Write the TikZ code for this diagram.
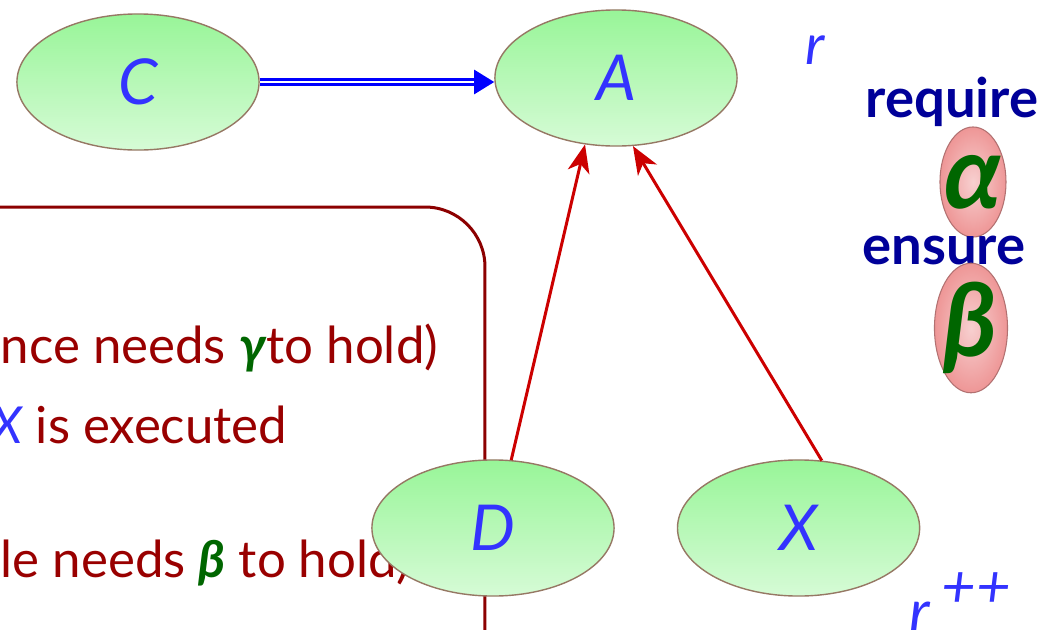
\documentclass[tikz,border=0pt]{standalone}
\usepackage{fontspec}
\setmainfont{Lato}
\usetikzlibrary{shapes.geometric, arrows.meta, positioning}
\definecolor{clsgreen}{RGB}{152,245,152}
\definecolor{clsedge}{RGB}{150,120,100}
\definecolor{assnpink}{RGB}{238,150,150}
\definecolor{txtblue}{RGB}{51,51,255}
\definecolor{kwblue}{RGB}{0,0,153}
\definecolor{frred}{RGB}{140,0,0}
\definecolor{txtred}{RGB}{153,0,0}
\definecolor{arrred}{RGB}{204,0,0}
\definecolor{asgreen}{RGB}{0,102,0}

\begin{document}
\begin{tikzpicture}[
            x=0.01cm, y=-0.01cm,
            font=\fontsize{14.5}{17}\selectfont,
            cls/.style={ellipse, draw=clsedge, line width=0.4pt, top color=clsgreen, middle color=clsgreen, bottom color=clsgreen!40!white, minimum width=2.42cm, minimum height=1.36cm, text=txtblue, font=\fontsize{18}{20}\selectfont\itshape},
            assn/.style={ellipse, draw=assnpink!75!black, line width=0.3pt, inner color=assnpink!45!white, outer color=assnpink, minimum width=0.66cm, minimum height=1.1cm, inner sep=0pt, text=asgreen, font=\fontsize{29}{30}\selectfont\bfseries\itshape},
            kw/.style={text=kwblue, font=\fontsize{15.5}{18}\selectfont\bfseries},
            txtline/.style={anchor=base west, text=txtred, inner sep=0pt},
            inh/.style={draw=blue, line width=0.025cm, double=white, double distance=0.025cm, -{Triangle[length=0.2cm, width=0.24cm, fill=blue]}},
            arr/.style={draw=arrred, line width=0.03cm, -{Stealth[length=0.28cm, width=0.22cm, inset=0.08cm]}}
        ]
            \useasboundingbox (0,0) rectangle (1050,630);
            \draw[frred, line width=0.03cm, rounded corners=0.6cm] (485,700) -- (485,207) -- (-60,207);
            \node[txtline] (need1) at (0,363) {nce needs \textcolor{asgreen}{\bfseries\itshape γ\/}to hold)};
            \node[txtline] (exec) at (-9,443) {\textcolor{txtblue}{\itshape X} is executed};
            \node[txtline] (need2) at (0,577) {le needs \textcolor{asgreen}{\bfseries\itshape β} to hold)};
            \node[cls] (C) at (138,82) {C};
            \node[cls] (A) at (616,78) {A};
            \node[cls] (D) at (493,528) {D};
            \node[cls, right=0.62cm of D] (X) {X};
            \node[text=txtblue, font=\fontsize{16}{18}\selectfont\itshape] (r) at (815,50) {r};
            \node[text=txtblue, font=\fontsize{17}{18}\selectfont\itshape, anchor=base] (rpp) at (960,632) {r\hspace{0.2em}\raisebox{0.8ex}{++}};
            \node[kw, anchor=base] (req) at (952,117) {require};
            \node[assn] (alpha) at (973,182) {\makebox[0pt]{α}};
            \node[kw, anchor=base] (ens) at (944,264) {ensure};
            \node[assn, minimum width=0.73cm] (beta) at (971,328) {\makebox[0pt]{β}};
            \draw[inh] (C.east) -- (C.east -| A.west);
            \draw[arr] (D.75) -- (A.245);
            \draw[arr] (X.71) -- (A.284);
        \end{tikzpicture}
\end{document}
